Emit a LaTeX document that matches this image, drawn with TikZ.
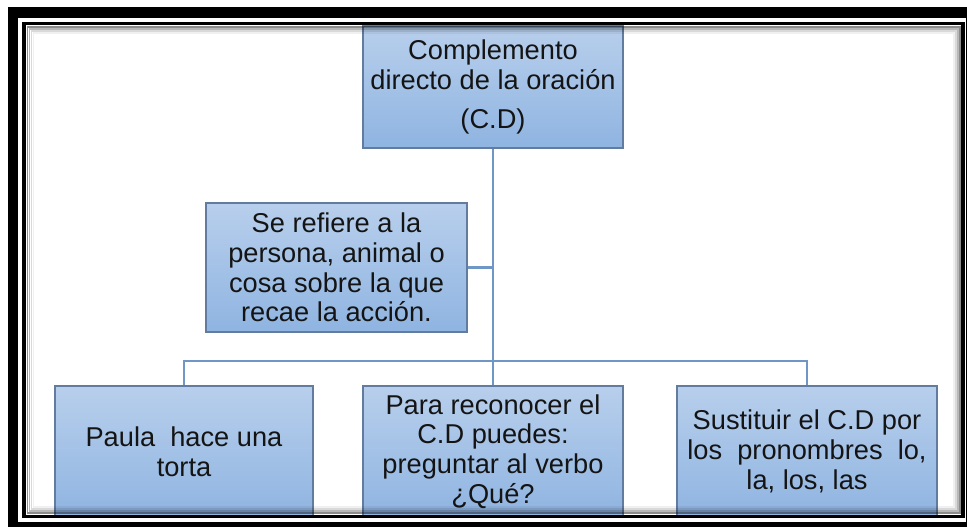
\documentclass[tikz,border=0pt]{standalone}
\usepackage{fontspec}
\setmainfont{Liberation Sans}
\usetikzlibrary{positioning}
\definecolor{boxtop}{RGB}{184,207,236}
\definecolor{boxbot}{RGB}{143,180,225}
\definecolor{boxline}{RGB}{98,124,160}
\definecolor{linkline}{RGB}{112,150,198}

\begin{document}
\begin{tikzpicture}[x=0.02cm,y=-0.02cm,
    box/.style={draw=boxline,line width=0.7pt,top color=boxtop,bottom color=boxbot,
      align=center,inner sep=0pt,text=black!92,font=\fontsize{15.5}{16.9}\selectfont},
    link/.style={draw=linkline,line width=1.2pt}]
       \useasboundingbox (0,0) rectangle (967,527);
       \clip (0,0) rectangle (967,527);

       % boxes
       \node[box,minimum width=5.2cm,minimum height=2.44cm] (cd) at (493,87)
         {Complemento\\directo de la oración\\[5pt](C.D)};
       \node[box,minimum width=5.22cm,minimum height=2.58cm] (def) at (336.5,267.5)
         {Se refiere a la\\persona, animal o\\cosa sobre la que\\recae la acción.};
       \node[box,minimum width=5.16cm,minimum height=2.62cm] (ejemplo) at (184,451.5)
         {Paula\ \ hace una\\torta};
       \node[box,minimum width=5.2cm,minimum height=2.62cm] (pregunta) at (493,451.5)
         {Para reconocer el\\C.D puedes:\\preguntar al verbo\\¿Qué?};
       \node[box,minimum width=5.2cm,minimum height=2.62cm] (pronombre) at (807,451.5)
         {Sustituir el C.D por\\los\ \ pronombres\ \ lo,\\la, los, las};

       % connectors
       \coordinate (bus) at (493,361);
       \draw[link] (cd.south) -- (pregunta.north);
       \draw[link] (def.east) -- (def.east -| cd.south);
       \draw[link] (ejemplo.north) |- (bus) -| (pronombre.north);

       % frame
       \foreach \k/\o in {0/0.45,1/0.28,2/0.15,3/0.06}
         \draw[black,draw opacity=\o,line width=1.13pt]
           (27.5+2*\k,27+2*\k) rectangle (959.5-2*\k,513-2*\k);
       \draw[black,line width=6.2pt] (13,12.5) rectangle (971,527.5);
       \draw[black,line width=1.9pt] (24,23.5) rectangle (963,516.5);
      \end{tikzpicture}
\end{document}
